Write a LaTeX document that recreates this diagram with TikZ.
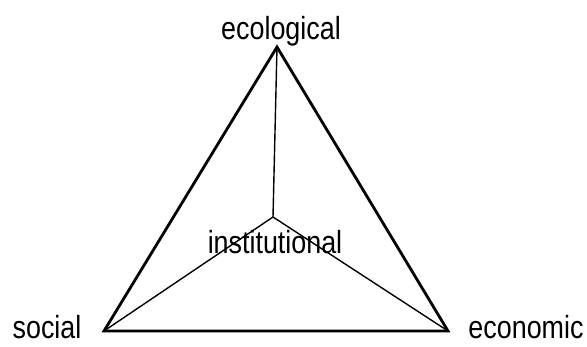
\documentclass[tikz,border=0pt]{standalone}
\usepackage{fontspec}
\setmainfont{Liberation Sans}
\usepackage{graphicx}
\usepackage{tikz}
\usetikzlibrary{positioning}
\newcommand{\narrowtext}[1]{\scalebox{0.84}[1]{#1}}

\begin{document}
\begin{tikzpicture}[
      x=1pt, y=-1pt,
      lbl/.style={font=\fontsize{32}{35}\selectfont, inner sep=0pt, anchor=base},
      side/.style={line width=2.8pt, line join=miter},
      spoke/.style={line width=1.4pt}
    ]
      \useasboundingbox (0,0) rectangle (587,347);
      % corners of the triangle and its centre
      \coordinate (top) at (277,47);
      \coordinate (left) at (104,331);
      \coordinate (right) at (448,331);
      \coordinate (mid) at (273,217);
      \node[lbl] (ecological) at (281,40) {\narrowtext{ecological}};
      \node[lbl] (social) at (47,339) {\narrowtext{social}};
      \node[lbl] (economic) at (526,339) {\narrowtext{economic}};
      \node[lbl] (institutional) at (275,254) {\narrowtext{institutional}};
      \draw[side] (top) -- (left) -- (right) -- cycle;
      \draw[spoke] (mid) -- (top);
      \draw[spoke] (mid) -- (left);
      \draw[spoke] (mid) -- (right);
    \end{tikzpicture}
\end{document}
